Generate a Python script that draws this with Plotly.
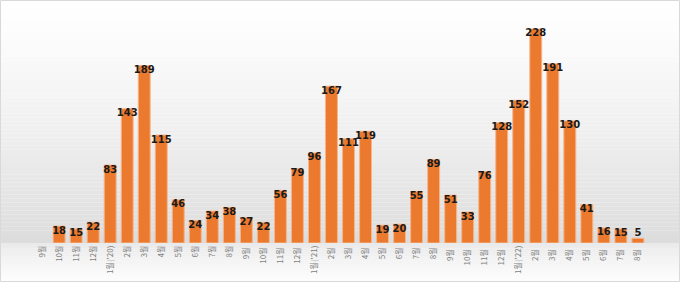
import plotly.graph_objects as go

categories = ["9월", "10월", "11월", "12월", "1월('20)", "2월", "3월", "4월", "5월", "6월", "7월", "8월",
              "9월 ", "10월 ", "11월 ", "12월 ", "1월('21)", "2월 ", "3월 ", "4월 ", "5월 ", "6월 ", "7월 ", "8월 ",
              "9월  ", "10월  ", "11월  ", "12월  ", "1월('22)", "2월  ", "3월  ", "4월  ", "5월  ", "6월  ", "7월  ", "8월  "]
values = [None, 18, 15, 22, 83, 143, 189, 115, 46, 24, 34, 38,
          27, 22, 56, 79, 96, 167, 111, 119, 19, 20, 55, 89,
          51, 33, 76, 128, 152, 228, 191, 130, 41, 16, 15, 5]

W, H = 680, 282
ml, mr, mt, mb = 9, 9, 13, 39
ph = H - mt - mb
pw = W - ml - mr

def py(p):
    return (H - mb - p) / ph

def px(p):
    return (p - ml) / pw

shapes = []
n = 60
top_p, base_p = 0, H - mb
for i in range(n):
    p0 = top_p + (base_p - top_p) * i / n
    p1 = top_p + (base_p - top_p) * (i + 1) / n
    t = (i + 0.5) / n
    g = int(round(255 - 35 * t ** 1.3))
    shapes.append(dict(type="rect", xref="paper", yref="paper", x0=px(0), x1=px(W),
                       y0=py(p1), y1=py(p0), fillcolor=f"rgb({g},{g},{g})", line_width=0, layer="below"))
m = 20
for i in range(m):
    p0 = base_p + (H - base_p) * i / m
    p1 = base_p + (H - base_p) * (i + 1) / m
    t = (i + 0.5) / m
    g = int(round(234 + 19 * t))
    shapes.append(dict(type="rect", xref="paper", yref="paper", x0=px(0), x1=px(W),
                       y0=py(p1), y1=py(p0), fillcolor=f"rgb({g},{g},{g})", line_width=0, layer="below"))
shapes.append(dict(type="rect", xref="paper", yref="paper", x0=px(0.5), x1=px(W - 0.5),
                   y0=py(H - 0.5), y1=py(0.5), line=dict(color="#d9d9d9", width=1), fillcolor="rgba(0,0,0,0)"))

labels = ["" if v is None else f"<b>{v}</b>" for v in values]
positions = ["top center" if (v is not None and v < 12) else "bottom center" for v in values]

fig = go.Figure()
fig.add_trace(go.Bar(
    x=categories, y=values,
    marker=dict(color="#eb7a2f", line=dict(color="#f6b58a", width=1)),
    hoverinfo="skip",
))
fig.add_trace(go.Scatter(
    x=categories, y=values, mode="text", text=labels, textposition=positions,
    textfont=dict(family="DejaVu Sans, sans-serif", size=10, color="#1a1a1a"),
    hoverinfo="skip", cliponaxis=False,
))

fig.update_layout(
    width=W, height=H,
    margin=dict(l=ml, r=mr, t=mt, b=mb),
    paper_bgcolor="white", plot_bgcolor="rgba(0,0,0,0)",
    showlegend=False, bargap=0.3,
    shapes=shapes,
    xaxis=dict(type="category", tickangle=-90, automargin=False, showgrid=False, showline=False,
               ticks="", tickfont=dict(family="Noto Sans CJK KR", size=8, color="#7f7f7f")),
    yaxis=dict(range=[0, 245], visible=False, showgrid=False, fixedrange=True),
)

fig.write_html("out.html")
